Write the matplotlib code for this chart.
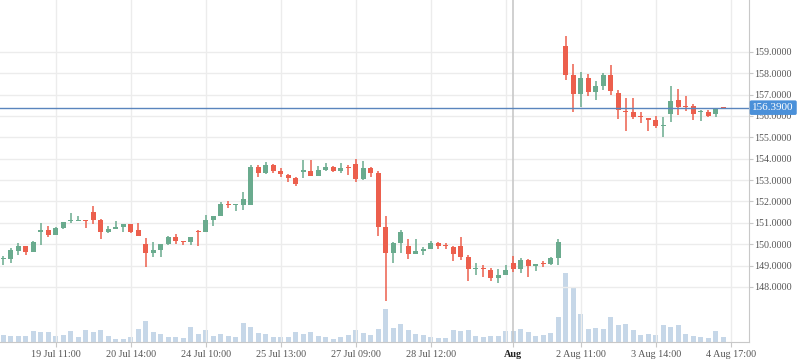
import numpy as np
import matplotlib
matplotlib.use("Agg")
from matplotlib import pyplot as plt
import matplotlib.transforms as mtrans

# OHLC, one candle per slot
opens = [149.30, 149.32, 149.68, 149.92, 149.65, 150.55, 150.68, 150.43, 150.77, 151.07,
         151.08, 151.11, 151.52, 151.15, 150.59, 150.73, 150.82, 150.95, 150.65, 150.01,
         149.60, 149.73, 150.01, 150.34, 150.10, 150.11, 150.62, 150.57, 151.13, 151.32,
         151.88, 151.83, 151.84, 151.84, 153.60, 153.35, 153.70, 153.43, 153.26, 153.12,
         153.40, 153.43, 153.21, 153.48, 153.62, 153.43, 153.58, 153.76, 153.04, 153.57,
         153.34, 150.81, 149.60, 150.07, 149.92, 149.56, 149.70, 149.79, 150.06, 149.94,
         149.87, 149.92, 149.40, 148.83, 148.85, 148.79, 148.43, 148.56, 149.12, 148.84,
         149.26, 148.98, 149.07, 149.07, 149.36, 159.28, 157.92, 157.05, 157.78, 157.14,
         157.42, 157.92, 157.08, 156.24, 156.19, 155.96, 155.91, 155.82, 155.51, 156.11,
         156.75, 156.47, 156.46, 156.17, 156.19, 156.07, 156.39]
highs = [149.45, 149.81, 150.04, 149.92, 150.16, 151.01, 150.85, 150.82, 151.04, 151.46,
         151.32, 151.15, 151.79, 151.18, 150.85, 151.09, 150.95, 150.95, 150.99, 150.31,
         150.09, 150.01, 150.39, 150.48, 150.16, 150.34, 150.68, 151.37, 151.32, 151.96,
         152.01, 151.87, 152.45, 153.70, 153.70, 153.85, 153.76, 153.56, 153.29, 153.15,
         153.94, 153.94, 153.66, 153.79, 153.66, 153.79, 153.72, 153.99, 153.90, 153.62,
         153.42, 151.32, 150.10, 150.67, 150.25, 150.25, 149.87, 150.15, 150.10, 150.06,
         149.92, 150.34, 149.48, 149.12, 149.03, 148.89, 148.84, 149.03, 149.45, 149.36,
         149.31, 149.07, 149.22, 149.40, 150.25, 159.75, 158.44, 158.06, 157.97, 157.64,
         158.02, 158.39, 157.22, 156.86, 156.85, 156.19, 155.91, 156.00, 155.96, 157.41,
         157.27, 156.94, 156.57, 156.30, 156.28, 156.39, 156.39]
lows = [149.03, 149.12, 149.50, 149.51, 149.65, 149.96, 150.32, 150.43, 150.70, 150.99,
        151.08, 150.78, 150.96, 150.26, 150.50, 150.73, 150.56, 150.51, 150.40, 148.95,
        149.42, 149.42, 149.95, 150.02, 149.98, 149.95, 149.93, 150.57, 150.87, 151.32,
        151.71, 151.57, 151.62, 151.84, 153.16, 153.27, 153.32, 153.16, 152.90, 152.70,
        153.10, 153.21, 153.21, 153.44, 153.38, 153.35, 153.26, 152.91, 153.00, 153.15,
        150.39, 147.36, 149.14, 149.60, 149.32, 149.56, 149.50, 149.77, 149.79, 149.79,
        149.23, 149.26, 148.28, 148.56, 148.47, 148.29, 148.20, 148.56, 148.71, 148.65,
        148.47, 148.75, 148.93, 149.03, 149.03, 157.69, 156.20, 156.43, 156.95, 156.77,
        157.24, 157.00, 155.88, 155.32, 155.88, 155.69, 155.32, 155.46, 155.04, 155.74,
        156.06, 156.24, 155.82, 155.78, 155.97, 155.97, 156.35]
closes = [149.33, 149.73, 149.92, 149.65, 150.12, 150.68, 150.45, 150.77, 151.04, 151.10,
          151.10, 151.09, 151.15, 150.59, 150.73, 150.81, 150.95, 150.59, 150.40, 149.60,
          149.73, 150.01, 150.34, 150.15, 150.08, 150.34, 150.58, 151.12, 151.32, 151.87,
          151.84, 151.85, 152.12, 153.60, 153.35, 153.70, 153.44, 153.27, 153.12, 152.81,
          153.43, 153.21, 153.48, 153.62, 153.43, 153.57, 153.55, 153.07, 153.57, 153.34,
          150.82, 149.60, 150.06, 150.57, 149.56, 149.68, 149.79, 150.06, 149.92, 149.92,
          149.56, 149.40, 148.86, 148.85, 148.83, 148.43, 148.56, 148.79, 148.84, 149.26,
          148.98, 149.07, 149.05, 149.36, 150.10, 157.94, 157.05, 157.78, 157.14, 157.42,
          157.92, 157.19, 156.30, 156.20, 155.97, 155.93, 155.82, 155.55, 155.53, 156.69,
          156.44, 156.41, 156.11, 156.19, 156.02, 156.33, 156.35]
volumes = [670, 570, 570, 570, 1070, 970, 970, 570, 670, 1070,
           470, 1170, 970, 1170, 570, 270, 270, 470, 1270, 2070,
           970, 770, 470, 470, 370, 1470, 770, 1170, 570, 770,
           570, 470, 1870, 1470, 870, 770, 470, 470, 470, 970,
           770, 970, 570, 470, 270, 470, 670, 1170, 870, 670,
           1270, 3270, 1370, 1770, 1170, 770, 670, 470, 370, 370,
           1170, 1070, 1170, 570, 470, 570, 570, 1070, 1070, 1270,
           970, 570, 670, 870, 2470, 6870, 5500, 2770, 1270, 1370,
           1270, 2470, 1670, 1770, 1170, 670, 770, 670, 1670, 1470,
           1670, 770, 570, 470, 370, 1070, 470]

tick_pos = [7, 17, 27, 37, 47, 57, 68, 77, 87, 97]
tick_labels = ["19 Jul 11:00", "20 Jul 14:00", "24 Jul 10:00", "25 Jul 13:00",
               "27 Jul 09:00", "28 Jul 12:00", "Aug", "2 Aug 11:00",
               "3 Aug 14:00", "4 Aug 17:00"]
price_ticks = list(range(148, 160))
last_price = 156.39

UP = "#6aab8e"
DOWN = "#ec5f4d"
GRID = "#ececec"
AXIS = "#c8c8c8"
serif = "Liberation Serif"

fig = plt.figure(figsize=(7.98, 3.63), dpi=100)
rect = [0.0, 21 / 363, 749 / 798, 342 / 363]
axv = fig.add_axes(rect)
ax = fig.add_axes(rect, sharex=axv)
ax.patch.set_alpha(0)

x = np.arange(len(opens))
o = np.array(opens); h = np.array(highs); l = np.array(lows); c = np.array(closes)
col = np.where(c >= o, UP, DOWN)

# volume
axv.bar(x, volumes, width=0.66, color="#c6d7e8", zorder=1)
axv.set_ylim(0, 34200)
axv.set_yticks([])
for s in axv.spines.values():
    s.set_visible(False)
axv.tick_params(axis="x", length=0, labelbottom=False)

# grid
for p in price_ticks:
    ax.axhline(p, color=GRID, lw=1, zorder=0)
for g in range(7, 100, 10):
    ax.axvline(g, color=GRID, lw=1, zorder=0)
ax.axvline(68, color=AXIS, lw=1.2, zorder=1)

# candles
ax.vlines(x, l, h, colors=col, lw=1.1, zorder=3)
body = np.maximum(np.abs(c - o), 0.05)
ax.bar(x, body, bottom=np.minimum(o, c), width=0.66, color=col, zorder=4)

ax.axhline(last_price, color="#5a85bd", lw=1, zorder=5)

ax.set_xlim(-0.44, 99.43)
ax.set_ylim(145.42, 161.43)

ax.yaxis.tick_right()
ax.set_yticks(price_ticks)
ax.set_yticklabels([f"{p:.4f}" for p in price_ticks])
ax.set_xticks(tick_pos)
ax.set_xticklabels(tick_labels)
ax.tick_params(axis="y", length=3, width=0.8, color=AXIS, pad=0.5, labelsize=7.2,
               labelcolor="#555555")
ax.tick_params(axis="x", length=3.5, width=0.8, color=AXIS, pad=2, labelsize=7.3,
               labelcolor="#555555")
for t in ax.get_xticklabels() + ax.get_yticklabels():
    t.set_family(serif)
aug = ax.get_xticklabels()[6]
aug.set_color("#222222")
aug.set_fontweight("bold")

for s in ["top", "left"]:
    ax.spines[s].set_visible(False)
ax.spines["right"].set_color(AXIS)
ax.spines["bottom"].set_color(AXIS)

trans = mtrans.blended_transform_factory(ax.transAxes, ax.transData)
ax.annotate(f"{last_price:.4f}", xy=(1.0, last_price), xycoords=trans,
            xytext=(2.5, 0), textcoords="offset points", ha="left", va="center",
            fontsize=8, family=serif, color="white", zorder=10, annotation_clip=False,
            bbox=dict(boxstyle="round,pad=0.25,rounding_size=0.15", fc="#4a90d9", ec="none"))

fig.savefig("out.png", dpi=100)
